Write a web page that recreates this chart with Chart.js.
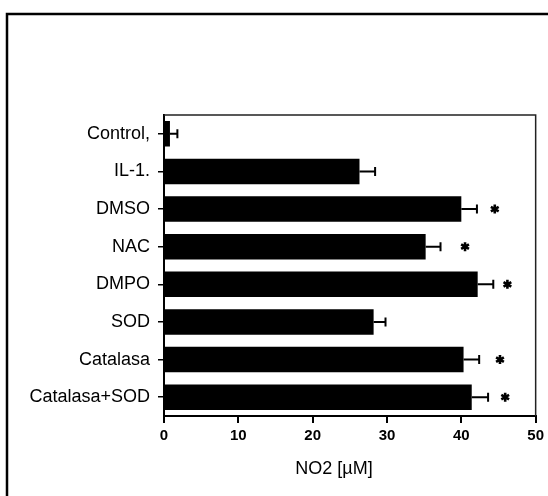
<!DOCTYPE html>
<html>
<head>
<meta charset="utf-8">
<script src="https://cdn.jsdelivr.net/npm/chart.js@4/dist/chart.umd.min.js"></script>
<style>
  html, body { margin: 0; padding: 0; background: #fff; }
  #wrap { width: 548px; height: 496px; }
</style>
</head>
<body>
<div id="wrap"><canvas id="no2-chart"></canvas></div>
<script>
const treatments = ['Control,', 'IL-1.', 'DMSO', 'NAC', 'DMPO', 'SOD', 'Catalasa', 'Catalasa+SOD'];
const no2Mean = [0.8, 26.3, 40.0, 35.2, 42.2, 28.2, 40.3, 41.4];
const no2Err = [1.0, 2.1, 2.1, 2.0, 2.1, 1.6, 2.1, 2.2];
// where the significance star sits on the x scale (null = not significant)
const starAt = [null, null, 44.5, 40.5, 46.2, null, 45.2, 45.9];
const xTicks = [0, 10, 20, 30, 40, 50];

const labelFont = '"Liberation Sans", Arial, sans-serif';

// outer frame + plot box
const framePlugin = {
  id: 'frame',
  beforeDraw(chart) {
    const { ctx } = chart;
    ctx.save();
    ctx.fillStyle = '#fff';
    ctx.fillRect(0, 0, chart.width, chart.height);
    ctx.strokeStyle = '#000';
    ctx.lineWidth = 2.5;
    ctx.beginPath();
    ctx.moveTo(7, chart.height);
    ctx.lineTo(7, 14);
    ctx.lineTo(chart.width, 14);
    ctx.stroke();
    ctx.restore();
  },
  afterDraw(chart) {
    const { ctx, chartArea: a } = chart;
    ctx.save();
    ctx.strokeStyle = '#222';
    ctx.lineWidth = 1.5;
    ctx.beginPath();
    ctx.moveTo(a.left, a.top);
    ctx.lineTo(a.right, a.top);
    ctx.lineTo(a.right, a.bottom);
    ctx.stroke();
    // axis title, sits a bit left of centre
    ctx.fillStyle = '#000';
    ctx.font = '18px ' + labelFont;
    ctx.textAlign = 'center';
    ctx.textBaseline = 'middle';
    ctx.fillText('NO2 [\u00b5M]', 334, 469);
    ctx.restore();
  }
};

function drawStar(ctx, cx, cy, r) {
  ctx.beginPath();
  for (let k = 0; k < 3; k++) {
    const ang = Math.PI / 2 + k * Math.PI / 3;
    ctx.moveTo(cx - r * Math.cos(ang), cy - r * Math.sin(ang));
    ctx.lineTo(cx + r * Math.cos(ang), cy + r * Math.sin(ang));
  }
  ctx.stroke();
}

// one-sided error bars and significance stars
const errorPlugin = {
  id: 'errorBars',
  afterDatasetsDraw(chart) {
    const { ctx } = chart;
    const x = chart.scales.x;
    const y = chart.scales.y;
    ctx.save();
    ctx.strokeStyle = '#000';
    ctx.fillStyle = '#000';
    no2Mean.forEach((v, i) => {
      const cy = y.getPixelForValue(i);
      const x0 = x.getPixelForValue(v);
      const x1 = x.getPixelForValue(v + no2Err[i]);
      ctx.lineWidth = 2;
      ctx.beginPath();
      ctx.moveTo(x0, cy);
      ctx.lineTo(x1, cy);
      ctx.moveTo(x1, cy - 4.5);
      ctx.lineTo(x1, cy + 4.5);
      ctx.stroke();
      if (starAt[i] !== null) {
        ctx.lineWidth = 2.6;
        drawStar(ctx, x.getPixelForValue(starAt[i]), cy, 4.5);
      }
    });
    ctx.restore();
  }
};

new Chart(document.getElementById('no2-chart'), {
  type: 'bar',
  data: {
    labels: treatments,
    datasets: [{
      data: no2Mean,
      backgroundColor: '#000',
      borderWidth: 0,
      categoryPercentage: 1,
      barPercentage: 0.68,
    }],
  },
  options: {
    indexAxis: 'y',
    responsive: true,
    maintainAspectRatio: false,
    animation: false,
    layout: {
      padding: { top: 115, right: 10, left: 0, bottom: 0 },
    },
    scales: {
      x: {
        type: 'linear',
        min: 0,
        max: 50,
        afterBuildTicks: (scale) => {
          scale.ticks = xTicks.map(v => ({ value: v }));
        },
        afterFit: (scale) => { scale.height = 80; },
        border: { display: true, color: '#000', width: 2 },
        grid: {
          drawOnChartArea: false,
          drawTicks: true,
          tickLength: 7,
          color: '#000',
          lineWidth: 2,
        },
        ticks: {
          color: '#000',
          padding: 4,
          maxRotation: 0,
          font: { family: labelFont, size: 15, weight: 'bold' },
        },
      },
      y: {
        afterFit: (scale) => { scale.width = 164; },
        border: { display: true, color: '#000', width: 2 },
        grid: {
          offset: false,
          drawOnChartArea: false,
          drawTicks: true,
          tickLength: 6,
          color: '#000',
          lineWidth: 1.5,
        },
        ticks: {
          color: '#000',
          padding: 8,
          font: { family: labelFont, size: 18 },
        },
      },
    },
    plugins: {
      legend: { display: false },
      tooltip: { enabled: false },
    },
  },
  plugins: [framePlugin, errorPlugin],
});
</script>
</body>
</html>
